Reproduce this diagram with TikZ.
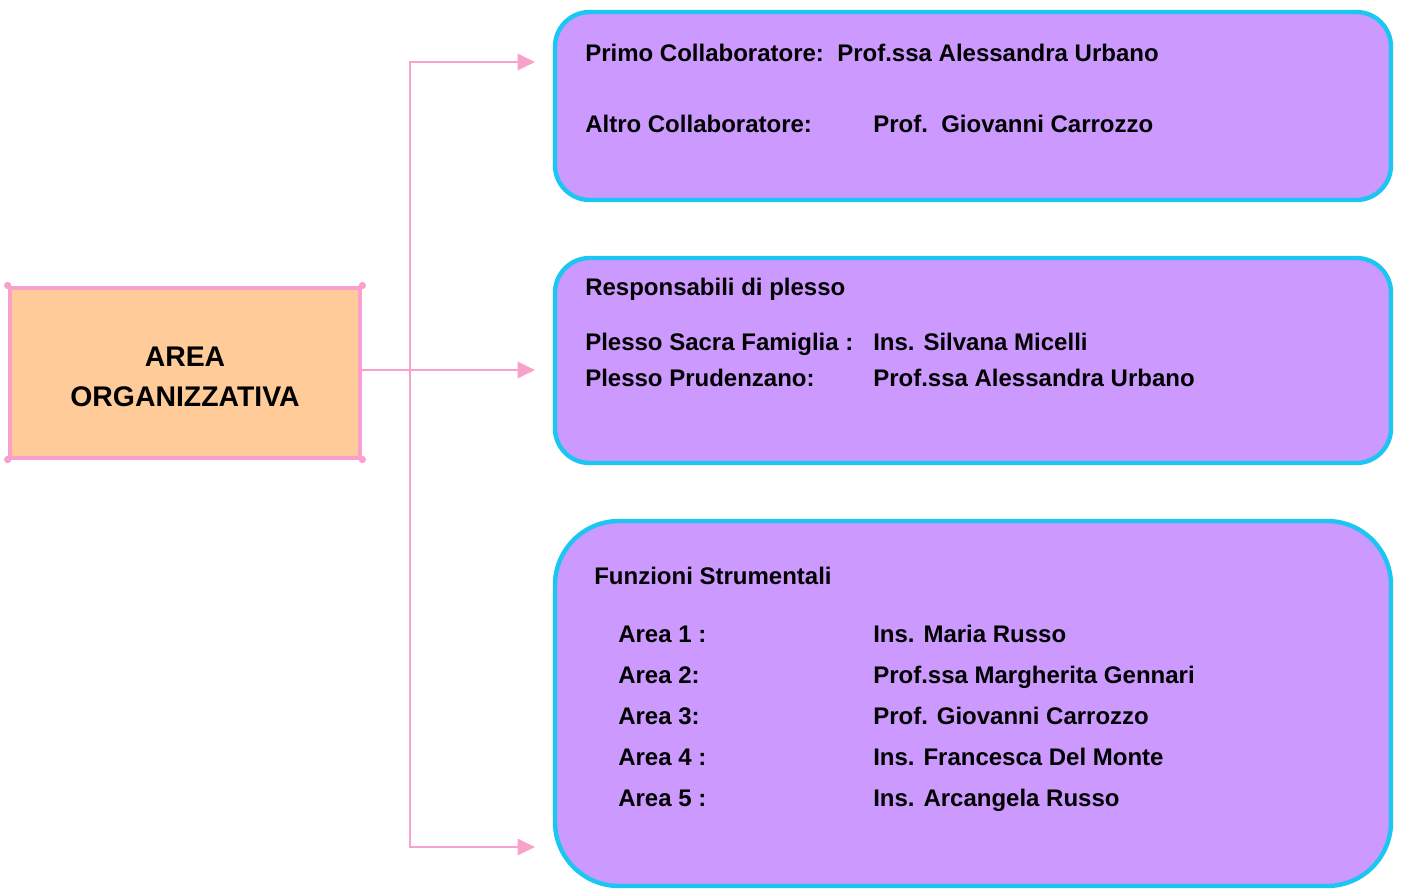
\documentclass[tikz,border=0pt]{standalone}
\usepackage{fontspec}
\setmainfont{Liberation Sans}
\usetikzlibrary{arrows.meta}
\definecolor{peach}{HTML}{FFCC99}
\definecolor{pinkline}{HTML}{F9A0CC}
\definecolor{lilac}{HTML}{CC99FF}
\definecolor{cyanb}{HTML}{1CC6F2}
\tikzset{
  mainbox/.style={draw=pinkline, fill=peach, line width=3pt, minimum width=263pt, minimum height=127.5pt, align=center, font=\fontsize{21.3}{30}\selectfont\bfseries, inner sep=0pt},
  rbox/.style={draw=cyanb, fill=lilac, line width=3.3pt, minimum width=627pt, rounded corners=26pt, inner sep=0pt},
  conn/.style={draw=pinkline, line width=2.2pt},
  arr/.style={conn, -{Triangle[length=13pt, width=12pt]}},
  txt/.style={anchor=base west, inner sep=0pt, font=\fontsize{18}{22}\selectfont\bfseries},
  cdot/.style={fill=pinkline, circle, inner sep=0pt, minimum size=5.5pt}
}
\begin{document}
\begin{tikzpicture}[x=0.75pt, y=-0.75pt]
\useasboundingbox (0,0) rectangle (1402,890);
% boxes
\node[mainbox] (area) at (185,372.5) {\raisebox{-3pt}[\height][\depth]{\parbox{250pt}{\centering AREA\\ORGANIZZATIVA}}};
\foreach \c in {north west, north east, south west, south east} \node[cdot] at (area.\c) {};
\node[rbox, minimum height=141pt] (b1) at (973,106) {};
\node[rbox, minimum height=153.75pt] (b2) at (973,360.5) {};
\node[rbox, minimum height=273.75pt, rounded corners=48pt] (b3) at (973,703.5) {};
% connectors
\coordinate (j) at (410,370);
\coordinate (t1) at (535,62);
\coordinate (t2) at (535,370);
\coordinate (t3) at (535,847);
\draw[conn] (area.east |- j) -- (j);
\draw[arr] (j) |- (t1);
\draw[arr] (j) -- (t2);
\draw[arr] (j) |- (t3);
% box 1 text
\node[txt] (p1) at (585,61) {Primo Collaboratore:\ \ Prof.ssa Alessandra Urbano};
\node[txt] (p2) at (585,132) {Altro Collaboratore:};
\node[txt] (p3) at (873,132) {Prof.\ \ Giovanni Carrozzo};
% box 2 text
\node[txt] (r0) at (585,295) {Responsabili di plesso};
\node[txt] (r1) at (585,350) {Plesso Sacra Famiglia :};
\node[txt] (r2) at (873,350) {Ins. Silvana Micelli};
\node[txt] (r3) at (585,386) {Plesso Prudenzano:};
\node[txt] (r4) at (873,386) {Prof.ssa Alessandra Urbano};
% box 3 text
\node[txt] (f0) at (594,584) {Funzioni Strumentali};
\node[txt] (a1) at (618,642) {Area 1 :};
\node[txt] (n1) at (873,642) {Ins. Maria Russo};
\node[txt] (a2) at (618,683) {Area 2:};
\node[txt] (n2) at (873,683) {Prof.ssa Margherita Gennari};
\node[txt] (a3) at (618,724) {Area 3:};
\node[txt] (n3) at (873,724) {Prof. Giovanni Carrozzo};
\node[txt] (a4) at (618,765) {Area 4 :};
\node[txt] (n4) at (873,765) {Ins. Francesca Del Monte};
\node[txt] (a5) at (618,806) {Area 5 :};
\node[txt] (n5) at (873,806) {Ins. Arcangela Russo};
\end{tikzpicture}
\end{document}
